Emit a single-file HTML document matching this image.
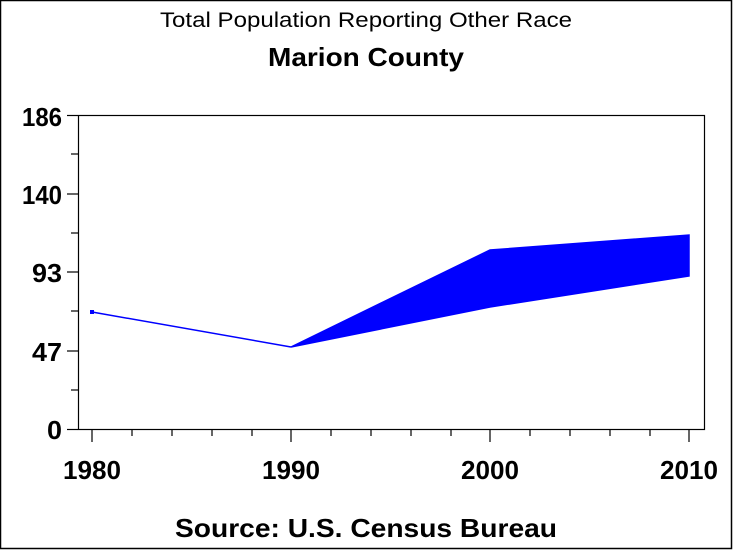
<!DOCTYPE html>
<html><head><style>
html,body{margin:0;padding:0;background:#fff}
svg{display:block}
text{font-family:"Liberation Sans",Arial,sans-serif;fill:#000}
</style></head><body>
<svg width="733" height="550" viewBox="0 0 733 550">
<rect x="0.5" y="0.5" width="731" height="548" fill="#fff" stroke="#000" stroke-width="1.5"/>
<text x="160" y="27" font-size="21" textLength="412" lengthAdjust="spacingAndGlyphs">Total Population Reporting Other Race</text>
<text x="268" y="66" font-size="26" font-weight="bold" textLength="196" lengthAdjust="spacingAndGlyphs">Marion County</text>
<text x="175" y="537" font-size="26" font-weight="bold" textLength="382" lengthAdjust="spacingAndGlyphs">Source: U.S. Census Bureau</text>
<rect x="78.5" y="115.5" width="626" height="314" fill="none" stroke="#000" stroke-width="1.2"/>
<g stroke="#000" stroke-width="1.2">
<line x1="67" y1="115.5" x2="78" y2="115.5"/><line x1="67" y1="194" x2="78" y2="194"/><line x1="67" y1="272" x2="78" y2="272"/><line x1="67" y1="351" x2="78" y2="351"/><line x1="67" y1="429.5" x2="78" y2="429.5"/>
<line x1="71" y1="154" x2="78" y2="154"/><line x1="71" y1="233" x2="78" y2="233"/><line x1="71" y1="311" x2="78" y2="311"/><line x1="71" y1="390" x2="78" y2="390"/>
<line x1="92" y1="430" x2="92" y2="442"/><line x1="291" y1="430" x2="291" y2="442"/><line x1="490" y1="430" x2="490" y2="442"/><line x1="689" y1="430" x2="689" y2="442"/>
<line x1="132" y1="430" x2="132" y2="436"/><line x1="172" y1="430" x2="172" y2="436"/><line x1="212" y1="430" x2="212" y2="436"/><line x1="252" y1="430" x2="252" y2="436"/>
<line x1="331" y1="430" x2="331" y2="436"/><line x1="371" y1="430" x2="371" y2="436"/><line x1="411" y1="430" x2="411" y2="436"/><line x1="451" y1="430" x2="451" y2="436"/>
<line x1="530" y1="430" x2="530" y2="436"/><line x1="570" y1="430" x2="570" y2="436"/><line x1="610" y1="430" x2="610" y2="436"/><line x1="650" y1="430" x2="650" y2="436"/>
</g>
<g font-size="26" font-weight="bold">
<text x="22" y="126" textLength="40" lengthAdjust="spacingAndGlyphs">186</text>
<text x="22" y="204" textLength="40" lengthAdjust="spacingAndGlyphs">140</text>
<text x="32" y="282" textLength="30" lengthAdjust="spacingAndGlyphs">93</text>
<text x="32" y="361" textLength="30" lengthAdjust="spacingAndGlyphs">47</text>
<text x="47" y="439" textLength="15" lengthAdjust="spacingAndGlyphs">0</text>
</g>
<g font-size="26" font-weight="bold">
<text x="63" y="479" textLength="58" lengthAdjust="spacingAndGlyphs">1980</text>
<text x="262" y="479" textLength="58" lengthAdjust="spacingAndGlyphs">1990</text>
<text x="461" y="479" textLength="58" lengthAdjust="spacingAndGlyphs">2000</text>
<text x="660" y="479" textLength="58" lengthAdjust="spacingAndGlyphs">2010</text>
</g>
<polyline points="92,312 291,347" fill="none" stroke="#0000ff" stroke-width="1.5"/>
<rect x="90" y="310" width="4" height="4" fill="#0000ff"/>
<polygon points="291,347 490,250 689,235 689,276 490,307" fill="#0000ff" stroke="#0000ff" stroke-width="1.5"/>
</svg>
</body></html>
